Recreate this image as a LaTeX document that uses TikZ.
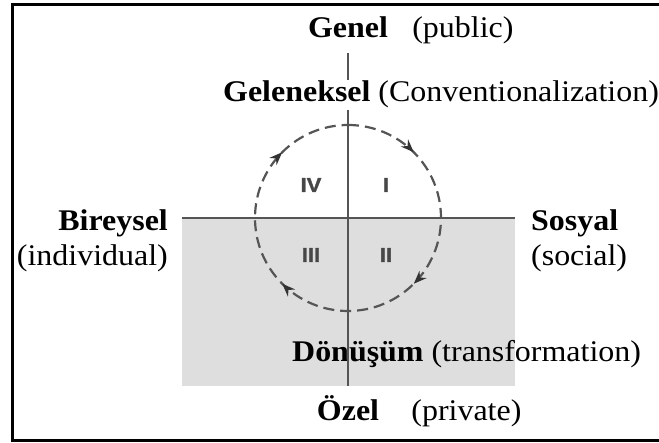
\documentclass[tikz,border=0pt]{standalone}
\usepackage{fontspec}
\setmainfont{Liberation Serif}[FakeStretch=1.065]
\newfontfamily\numfont{Liberation Sans}[FakeStretch=1.1,BoldFeatures={FakeBold=1.5}]
\usetikzlibrary{calc,positioning,arrows.meta,decorations.markings}
\definecolor{axisgray}{HTML}{555555}
\definecolor{shadegray}{HTML}{DEDEDE}

\begin{document}
\begin{tikzpicture}[x = 1pt,
                    y = 1pt,
                    color = {black}]
% styles
\tikzset{lbl/.style={font=\fontsize{30}{35}\selectfont,inner sep=1pt},
         axisline/.style={draw=axisgray,line width=2pt},
         quadlbl/.style={font=\numfont\fontsize{20}{20}\selectfont\bfseries,text=black!72},
         cycleline/.style={draw=axisgray,line width=2.2pt,dash pattern=on 11pt off 6pt,
           postaction={decorate},
           decoration={markings,
             mark=at position 0.125 with {\arrow[black!80]{Stealth[length=13pt,width=10pt]}},
             mark=at position 0.375 with {\arrow[black!80]{Stealth[length=13pt,width=10pt]}},
             mark=at position 0.625 with {\arrow[black!80]{Stealth[length=13pt,width=10pt]}},
             mark=at position 0.875 with {\arrow[black!80]{Stealth[length=13pt,width=10pt]}}}}}
\useasboundingbox (0,0) rectangle (659,443);
% coordinates
\coordinate (o) at (348,225);%centre
\coordinate (top) at (348,390);
\coordinate (bot) at (348,57);
\coordinate (w) at (182,225);
\coordinate (e) at (515,225);

%frame
\draw [line width=3pt] (659,438) -| (12,2) -- (659,2);

%shaded half
\fill [shadegray] (w) rectangle (e |- bot);

%labels
\node[lbl, anchor=base] (genel) at (348,405) {\textbf{Genel}};
\node[lbl, base right=22pt of genel] (public) {(public)};
\node[lbl, anchor=base west] (gelen) at (222,341) {\textbf{Geleneksel} (Conventionalization)};
\node[lbl, align=right, anchor=north east] (birey) at (169,235) {\textbf{Bireysel}\\(individual)};
\node[lbl, align=left, anchor=north west] (sosyal) at (530,235) {\textbf{Sosyal}\\(social)};
\node[lbl, anchor=base west] (donus) at (291,81) {\textbf{Dönüşüm} (transformation)};
\node[lbl, anchor=base] (ozel) at (348,22) {\textbf{Özel}};
\node[lbl, base right=30pt of ozel] (private) {(private)};

%axes
\draw [axisline] (top) -- (o |- gelen.north);
\draw [axisline] (o |- gelen.south) -- (bot);
\draw [axisline] (w) -- (e);

%cycle
\draw [cycleline] (348,318) arc [start angle=90, end angle=-270, radius=93];

%quadrants
\node[quadlbl] (q4) at (311,258) {IV};
\node[quadlbl] (q1) at (386,258) {I};
\node[quadlbl] (q3) at (311,188) {III};
\node[quadlbl] (q2) at (386,188) {II};
\end{tikzpicture}
\end{document}
